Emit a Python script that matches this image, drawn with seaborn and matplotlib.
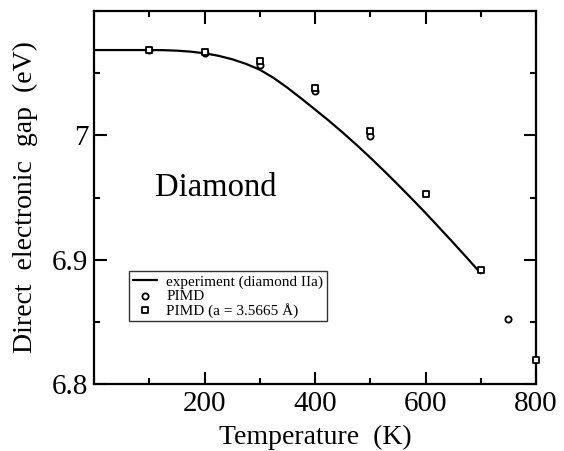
import matplotlib
matplotlib.use("Agg")
import matplotlib.pyplot as plt
import seaborn as sns
import pandas as pd
from matplotlib.ticker import MultipleLocator

# experiment curve
exp_T = [0, 50, 100, 125, 150, 175, 200, 225, 250, 275, 300, 325, 350, 375,
         400, 425, 450, 475, 500, 525, 550, 575, 600, 625, 650, 675, 700]
exp_E = [7.0686, 7.0686, 7.0686, 7.0685, 7.0681, 7.0673, 7.0660, 7.0640,
         7.0612, 7.0575, 7.0528, 7.0462, 7.0383, 7.0297, 7.0208, 7.0118,
         7.0023, 6.9924, 6.9821, 6.9714, 6.9604, 6.9491, 6.9376, 6.9257,
         6.9137, 6.9015, 6.8890]

# PIMD (circles)
pimd_T = [100, 200, 300, 400, 500, 750]
pimd_E = [7.0686, 7.0660, 7.0564, 7.0359, 6.9998, 6.8526]

# PIMD fixed lattice (squares)
pimda_T = [100, 200, 300, 400, 500, 600, 700, 800]
pimda_E = [7.0688, 7.0672, 7.0597, 7.0380, 7.0035, 6.9530, 6.8913, 6.8194]

sns.set_theme(style="ticks")
plt.rcParams['font.family'] = ['Liberation Serif', 'DejaVu Serif']
plt.rcParams['mathtext.fontset'] = 'stix'
plt.rcParams['text.color'] = 'black'
plt.rcParams['axes.labelcolor'] = 'black'
plt.rcParams['xtick.color'] = 'black'
plt.rcParams['ytick.color'] = 'black'

fig = plt.figure(figsize=(5.64, 4.51), dpi=100)
ax = fig.add_axes([94/564, 1-384/451, (536-94)/564, (384-11)/451])

df_exp = pd.DataFrame({"T": exp_T, "E": exp_E})
df_p = pd.DataFrame({"T": pimd_T, "E": pimd_E})
df_a = pd.DataFrame({"T": pimda_T, "E": pimda_E})

sns.lineplot(data=df_exp, x="T", y="E", ax=ax, color="black", lw=1.6,
             label="experiment (diamond IIa)")
sns.scatterplot(data=df_p, x="T", y="E", ax=ax, marker="o", s=20,
                facecolor="white", edgecolor="black", linewidth=1.3,
                label="PIMD", clip_on=False, zorder=3)
sns.scatterplot(data=df_a, x="T", y="E", ax=ax, marker="s", s=18,
                facecolor="white", edgecolor="black", linewidth=1.3,
                label="PIMD (a = 3.5665 Å)", clip_on=False, zorder=4)

ax.set_xlim(0, 800)
ax.set_ylim(6.8, 7.1)
ax.xaxis.set_minor_locator(MultipleLocator(100))
ax.yaxis.set_minor_locator(MultipleLocator(0.05))
ax.set_xticks([200, 400, 600, 800])
ax.set_xticklabels(["200", "400", "600", "800"])
ax.set_yticks([6.8, 6.9, 7.0])
ax.set_yticklabels(["6.8", "6.9", "7"])

ax.tick_params(which="both", direction="in", top=True, right=True,
               width=1.5, labelsize=21, colors="black")
ax.tick_params(which="major", length=9)
ax.tick_params(which="minor", length=4.5)
ax.tick_params(axis="x", pad=5)
ax.tick_params(axis="y", pad=4)
for s in ax.spines.values():
    s.set_linewidth(1.6)
    s.set_color("black")

ax.set_xlabel("Temperature  (K)", fontsize=20, labelpad=6, color="black")
ax.set_ylabel("Direct  electronic  gap  (eV)", fontsize=20, labelpad=10,
              color="black")

ax.text(0.138, 0.525, "Diamond", transform=ax.transAxes, fontsize=23.5,
        ha="left", va="center", color="black")

leg = ax.legend(loc="lower left", bbox_to_anchor=(0.079, 0.168), fontsize=11,
                frameon=True, fancybox=False, edgecolor="black",
                labelspacing=0.0, handlelength=1.6, handletextpad=0.6,
                borderpad=0.25, borderaxespad=0)
leg.get_frame().set_linewidth(1.0)
for t in leg.get_texts():
    t.set_color("black")

fig.savefig("out.png", dpi=100)
